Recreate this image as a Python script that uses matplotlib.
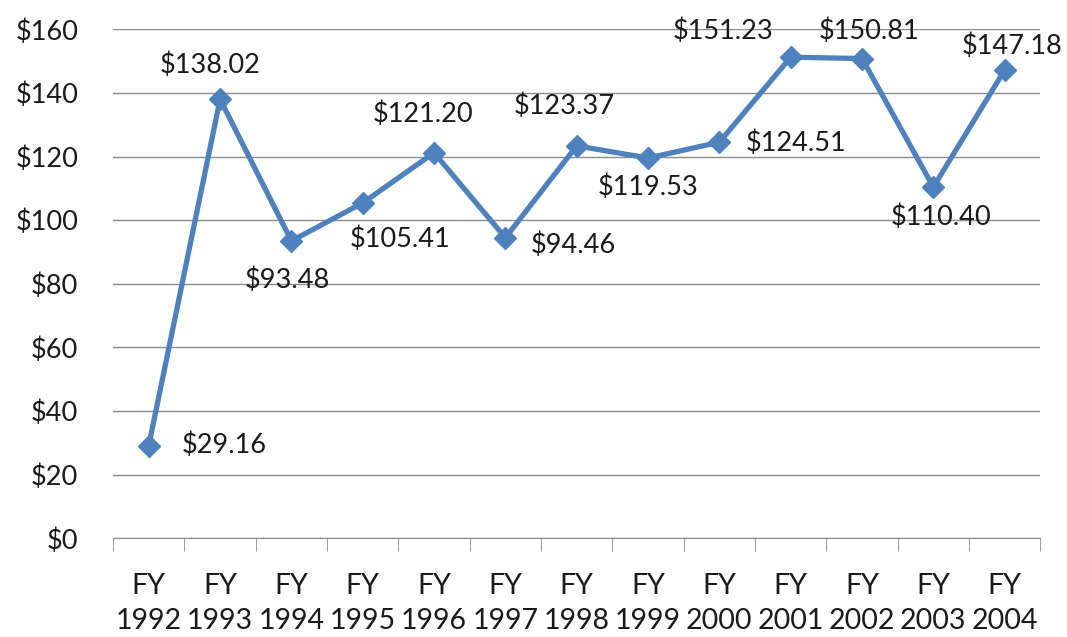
import matplotlib.pyplot as plt

# data
years = ["1992", "1993", "1994", "1995", "1996", "1997", "1998",
         "1999", "2000", "2001", "2002", "2003", "2004"]
values = [29.16, 138.02, 93.48, 105.41, 121.20, 94.46, 123.37,
          119.53, 124.51, 151.23, 150.81, 110.40, 147.18]
yticks = [0, 20, 40, 60, 80, 100, 120, 140, 160]

# label offsets in pixels from each point (dx, dy)
offsets = [(75, 0), (-10, 34), (-4, -39), (37, -36), (-11, 38), (68, -7),
           (-12, 40), (0, -29), (77, -1), (-68, 26), (7, 27), (8, -30), (7, 24)]

plt.rcParams['font.family'] = ['Lato', 'DejaVu Sans']
color = "#4F81BD"

fig = plt.figure(figsize=(10.67, 6.37), dpi=100)
ax = fig.add_axes([0.106, 0.155, 0.869, 0.799])

x = list(range(len(years)))
ax.plot(x, values, color=color, lw=3.8, marker="D", ms=11, zorder=3)

for i, v in enumerate(values):
    dx, dy = offsets[i]
    ax.annotate("${:.2f}".format(v), (i, v), xytext=(dx, dy),
                textcoords="offset pixels", ha="center", va="center",
                fontsize=19.5, color="#1a1a1a")

ax.set_xlim(-0.5, len(years) - 0.5)
ax.set_ylim(0, 160)
ax.set_yticks(yticks)
ax.set_yticklabels(["${}".format(t) for t in yticks])
ax.yaxis.grid(True, color="#8c8c8c", lw=1)
ax.set_axisbelow(True)
ax.tick_params(axis="y", length=0, pad=25, labelsize=19.5, labelcolor="#1a1a1a")

ax.set_xticks(x)
ax.set_xticklabels(["FY\n" + y for y in years], linespacing=1.45)
ax.set_xticks([i - 0.5 for i in range(len(years) + 1)], minor=True)
ax.tick_params(axis="x", which="major", length=0, pad=25, labelsize=20.5, labelcolor="#1a1a1a")
ax.tick_params(axis="x", which="minor", length=9, color="#8c8c8c", direction="out")

for s in ["left", "right", "top"]:
    ax.spines[s].set_visible(False)
ax.spines["bottom"].set_color("#8c8c8c")

fig.savefig("out.png", dpi=100)
